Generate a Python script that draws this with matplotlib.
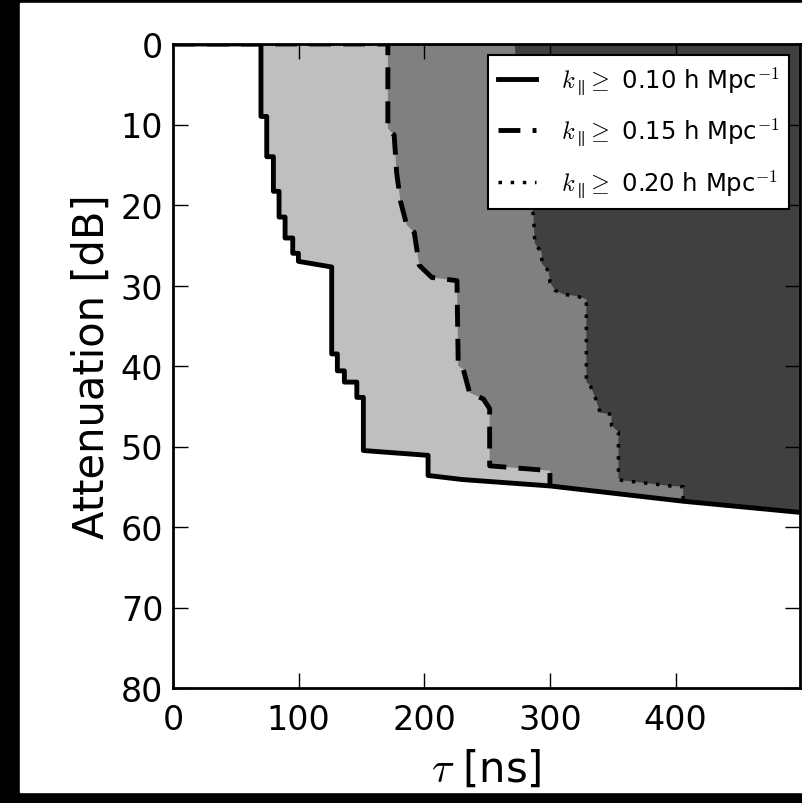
import matplotlib
matplotlib.use('Agg')
import matplotlib.pyplot as plt
from matplotlib.patches import Rectangle

# k_par >= 0.10 boundary (solid)
tau_010 = [0, 70, 70, 74.6, 74.6, 79.9, 79.9, 84.4, 84.4, 89.2, 89.2, 95.3, 95.3,
           99.8, 99.8, 126.3, 126.3, 130.8, 130.8, 136.4, 136.4, 146.3, 146.3,
           151.5, 151.5, 203, 203]
att_010 = [0, 0, 9.0, 9.0, 14.0, 14.0, 18.3, 18.3, 21.5, 21.5, 24.1, 24.1, 26.0,
           26.0, 27.0, 27.7, 38.5, 38.5, 40.6, 40.6, 42.0, 42.0, 43.9, 43.9,
           50.5, 51.1, 53.6]

# k_par >= 0.15 boundary (dashed)
tau_015 = [0, 171, 171, 176, 178, 181, 186, 192, 196, 206, 226, 227, 231, 236,
           247, 252, 252, 300, 300]
att_015 = [0, 0, 10.5, 11.3, 16, 19.5, 22.5, 23.4, 27.5, 29.0, 29.4, 40, 40.4,
           43.3, 44.1, 45.3, 52.4, 53.0, 54.9]

# k_par >= 0.20 boundary (dotted)
tau_020 = [0, 272, 274, 278, 283, 287, 288, 293.5, 293.5, 299, 300, 304, 311,
           321, 329, 329, 332, 336, 340, 349, 349, 354.5, 354.5, 357, 396, 406, 406]
att_020 = [0, 0, 5, 10, 16, 21.7, 24.8, 25.9, 27.3, 28.2, 29.6, 30.6, 31.1,
           31.3, 31.7, 42.0, 42.4, 43.9, 45.8, 46.0, 47.4, 48.2, 54.0, 54.2,
           54.9, 55.0, 56.8]

# lower limit shared by all regions
tau_floor = [203, 230, 300, 406, 500]
att_floor = [53.6, 54.1, 54.9, 56.8, 58.2]

labels = [r'$k_\parallel\!\geq$ 0.10 h Mpc$^{-1}$',
          r'$k_\parallel\!\geq$ 0.15 h Mpc$^{-1}$',
          r'$k_\parallel\!\geq$ 0.20 h Mpc$^{-1}$']

plt.rcParams['mathtext.fontset'] = 'cm'
plt.rcParams['font.family'] = 'DejaVu Sans'

fig = plt.figure(figsize=(8.02, 8.04), dpi=100)
fig.patch.set_facecolor('black')
bg = Rectangle((20 / 802, 11 / 804), 1, 1 - 15 / 804,
               transform=fig.transFigure, color='white', zorder=-10)
fig.add_artist(bg)
ax = fig.add_axes([173 / 802, 1 - 689 / 804, 627 / 802, 644 / 804])


def with_floor(tau, att):
    xs = list(tau) + [t for t in tau_floor if t > tau[-1]]
    ys = list(att) + [a for t, a in zip(tau_floor, att_floor) if t > tau[-1]]
    return xs, ys


for (tau, att), col in zip([(tau_010, att_010), (tau_015, att_015), (tau_020, att_020)],
                           ['#bfbfbf', '#808080', '#404040']):
    xs, ys = with_floor(tau, att)
    ax.fill(xs + [tau_floor[-1], tau_floor[-1]], ys + [0, 0], color=col, lw=0, zorder=1)

xs, ys = with_floor(tau_010, att_010)
l1, = ax.plot(xs, ys, color='k', lw=3.5, zorder=3, solid_joinstyle='round')
l2, = ax.plot(tau_015, att_015, color='k', lw=3.5, ls=(0, (4.5, 2.5)), zorder=3)
l3, = ax.plot(tau_020, att_020, color='k', lw=2.5, ls=(0, (1, 2.5)), zorder=3)

ax.set_xlim(0, 499)
ax.set_ylim(80, 0)
ax.set_xticks([0, 100, 200, 300, 400])
ax.set_yticks(range(0, 81, 10))
ax.tick_params(direction='in', length=11, width=1, top=True, right=True,
               labelsize=24)
ax.tick_params(axis='x', pad=11)
ax.tick_params(axis='y', pad=7)
for s in ax.spines.values():
    s.set_linewidth(2)
    s.set_zorder(5)

ax.set_xlabel(r'$\tau$ [ns]', fontsize=30, labelpad=8)
ax.set_ylabel('Attenuation [dB]', fontsize=30, labelpad=6)

leg = ax.legend([l1, l2, l3], labels, loc='upper right', fontsize=17.5,
                fancybox=False, edgecolor='k', framealpha=1, handlelength=1.6,
                handletextpad=1.0, labelspacing=0.8, borderaxespad=0.45)
leg.get_frame().set_linewidth(1.5)
leg.set_zorder(6)

fig.savefig('out.png', dpi=100, facecolor=fig.get_facecolor())
